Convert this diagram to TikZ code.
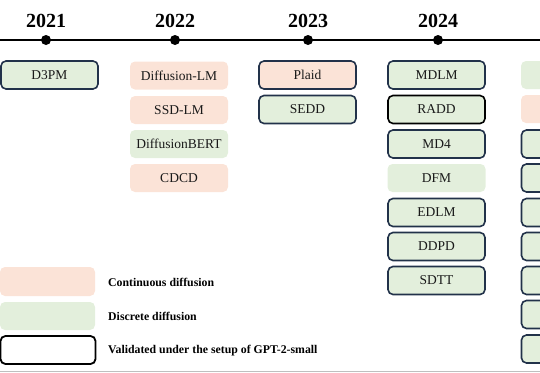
\documentclass[tikz,border=0pt]{standalone}
\usepackage{fontspec}
\setmainfont{Liberation Serif}
\definecolor{contC}{HTML}{FBE3D7}
\definecolor{discC}{HTML}{E3EFDC}
\definecolor{navyC}{HTML}{22324A}
\begin{document}
\begin{tikzpicture}[x=1pt,y=-1pt,
  base/.style={rounded corners=5pt, minimum width=98pt, minimum height=28pt, inner sep=0pt, font=\fontsize{13.5}{15}\selectfont, text=black!90},
  cont/.style={base, fill=contC},
  disc/.style={base, fill=discC},
  val/.style={draw=navyC, line width=1.6pt, minimum width=97pt, minimum height=28pt},
  valk/.style={draw=black, line width=1.6pt, minimum width=97pt, minimum height=28pt},
  year/.style={font=\fontsize{20}{22}\selectfont\bfseries},
  dot/.style={circle, fill=black, inner sep=0pt, minimum size=10pt},
  legtext/.style={anchor=west, font=\fontsize{11.8}{13}\selectfont\bfseries, inner sep=0pt}
]
\useasboundingbox (0,0) rectangle (540,372);
\clip (0,0) rectangle (540,372);
% timeline
\coordinate (tl0) at (-5,40);
\coordinate (tl1) at (545,40);
\draw[line width=1.8pt] (tl0) -- (tl1);
\foreach \x/\y in {46/2021,175/2022,308/2023,438/2024}{
  \node[dot] (d\y) at (\x,40) {};
  \node[year] (y\y) at (\x,20.5) {\y};
}
% 2021
\node[disc,val] (d3pm) at (49.5,75) {D3PM};
% 2022
\node[cont] (dlm) at (179,75.5) {Diffusion-LM};
\node[cont] (ssd) at (179,110) {SSD-LM};
\node[disc] (dbert) at (179,144) {DiffusionBERT};
\node[cont] (cdcd) at (179,178) {CDCD};
% 2023
\node[cont,val] (plaid) at (307.5,75) {Plaid};
\node[disc,val] (sedd) at (307.5,109.5) {SEDD};
% 2024
\node[disc,val] (mdlm) at (436.5,75) {MDLM};
\node[disc,valk] (radd) at (436.5,109.5) {RADD};
\node[disc,val] (md4) at (436.5,144) {MD4};
\node[disc] (dfm) at (436.5,178) {DFM};
\node[disc,val] (edlm) at (436.5,212.5) {EDLM};
\node[disc,val] (ddpd) at (436.5,246.5) {DDPD};
\node[disc,val] (sdtt) at (436.5,280.5) {SDTT};
% next column (cut off)
\node[disc] (r1) at (570,75) {};
\node[cont] (r2) at (570,109) {};
\node[disc,val] (r3) at (570,144) {};
\node[disc,val] (r4) at (570,178) {};
\node[disc,val] (r5) at (570,212.5) {};
\node[disc,val] (r6) at (570,246.5) {};
\node[disc,val] (r7) at (570,280.5) {};
\node[disc,val] (r8) at (570,314.5) {};
\node[disc,val] (r9) at (570,349) {};
% legend
\node[cont, minimum width=95pt, minimum height=29pt] (lc) at (47.5,281.5) {};
\node[disc, minimum width=95pt, minimum height=28pt] (ld) at (47.5,316) {};
\node[base, draw=black, line width=1.8pt, minimum width=95pt, minimum height=28pt] (lv) at (48,350) {};
\node[legtext] (tc) at (108,282) {Continuous diffusion};
\node[legtext] (td) at (108,316) {Discrete diffusion};
\node[legtext] (tv) at (108,350.5) {Validated under the setup of GPT-2-small};
% bottom rule
\coordinate (b0) at (0,371.3);
\coordinate (b1) at (540,371.3);
\draw[black!25, line width=0.8pt] (b0) -- (b1);
\end{tikzpicture}
\end{document}
